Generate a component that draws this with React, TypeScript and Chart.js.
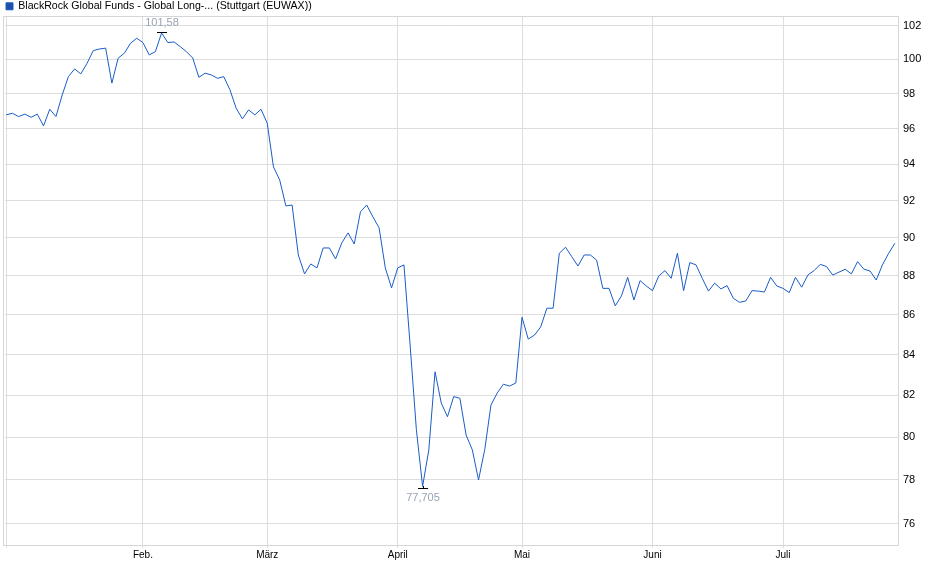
import { useEffect, useRef } from 'react'

import Chart from 'chart.js/auto'

// trading-day index of the first session of each month
const monthTicks = [0, 22, 42, 63, 83, 104, 125]
const monthLabels = ['', 'Feb.', 'März', 'April', 'Mai', 'Juni', 'Juli']

const priceTicks = [76, 78, 80, 82, 84, 86, 88, 90, 92, 94, 96, 98, 100, 102]

const prices = [
  96.78, 96.87, 96.68, 96.82, 96.64, 96.82, 96.15, 97.1, 96.68, 97.92,
  98.99, 99.44, 99.15, 99.77, 100.52, 100.62, 100.67, 98.61, 100.07, 100.37,
  100.96, 101.26, 101.0, 100.27, 100.46, 101.58, 101.0, 101.04, 100.76, 100.46,
  100.09, 98.95, 99.19, 99.09, 98.89, 98.99, 98.22, 97.16, 96.55, 97.06,
  96.78, 97.1, 96.3, 93.85, 93.13, 91.71, 91.76, 89.09, 88.1, 88.62,
  88.41, 89.46, 89.46, 88.88, 89.73, 90.26, 89.67, 91.39, 91.76, 91.12,
  90.53, 88.41, 87.37, 88.41, 88.57, 84.43, 80.35, 77.705, 79.4, 83.15,
  81.63, 80.97, 81.94, 81.86, 80.1, 79.4, 78.0, 79.41, 81.53, 82.11,
  82.54, 82.45, 82.6, 85.87, 84.77, 84.97, 85.38, 86.33, 86.33, 89.18,
  89.5, 89.0, 88.51, 89.09, 89.09, 88.82, 87.35, 87.35, 86.45, 86.96,
  87.92, 86.75, 87.75, 87.47, 87.23, 87.99, 88.27, 87.87, 89.18, 87.23,
  88.69, 88.57, 87.87, 87.21, 87.62, 87.32, 87.49, 86.84, 86.63, 86.7,
  87.23, 87.21, 87.16, 87.92, 87.47, 87.35, 87.13, 87.92, 87.41, 88.04,
  88.27, 88.6, 88.48, 88.04, 88.19, 88.34, 88.1, 88.74, 88.35, 88.25,
  87.78, 88.57, 89.18, 89.71,
]

const seriesName = 'BlackRock Global Funds - Global Long-... (Stuttgart (EUWAX))'

const fmt = (v: number) => String(v).replace('.', ',')

// frame around the plot plus the high / low markers
const extremesPlugin = {
  id: 'extremes',
  beforeDatasetsDraw(chart: Chart) {
    const { ctx, chartArea } = chart
    ctx.save()
    ctx.strokeStyle = '#d6d6d6'
    ctx.lineWidth = 1
    ctx.strokeRect(chartArea.left - 1.5, chartArea.top + 0.5, chartArea.width + 2, chartArea.height)
    ctx.restore()
  },
  afterDatasetsDraw(chart: Chart) {
    const { ctx } = chart
    const xs = chart.scales.x
    const ys = chart.scales.y
    const hi = prices.indexOf(Math.max(...prices))
    const lo = prices.indexOf(Math.min(...prices))
    ctx.save()
    ctx.font = '11px "Liberation Sans", Arial, sans-serif'
    ctx.textAlign = 'center'
    ctx.textBaseline = 'middle'

    const hx = Math.round(xs.getPixelForValue(hi))
    const hy = Math.round(ys.getPixelForValue(prices[hi])) - 1
    ctx.strokeStyle = '#000'
    ctx.beginPath()
    ctx.moveTo(hx - 5, hy + 0.5)
    ctx.lineTo(hx + 5, hy + 0.5)
    ctx.stroke()
    ctx.fillStyle = '#98a4b4'
    ctx.fillText(fmt(prices[hi]), hx, hy - 9)

    const lx = Math.round(xs.getPixelForValue(lo))
    const ly = Math.round(ys.getPixelForValue(prices[lo])) + 2
    ctx.beginPath()
    ctx.moveTo(lx - 5, ly + 0.5)
    ctx.lineTo(lx + 5, ly + 0.5)
    ctx.moveTo(lx + 0.5, ly - 2)
    ctx.lineTo(lx + 0.5, ly)
    ctx.stroke()
    ctx.fillText(fmt(prices[lo]), lx, ly + 10)
    ctx.restore()
  },
}

export default function App() {
  const canvasRef = useRef<HTMLCanvasElement | null>(null)
  const chartRef = useRef<Chart | null>(null)

  useEffect(() => {
    document.body.style.margin = '0'
    if (!canvasRef.current) return

    Chart.defaults.font.family = '"Liberation Sans", Arial, sans-serif'

    chartRef.current = new Chart(canvasRef.current, {
      type: 'line',
      data: {
        datasets: [
          {
            label: seriesName,
            data: prices.map((v, i) => ({ x: i, y: v })),
            borderColor: '#1a5cc8',
            backgroundColor: '#1e4fa6',
            borderWidth: 1,
            pointRadius: 0,
            tension: 0,
          },
        ],
      },
      options: {
        responsive: false,
        animation: false,
        layout: { padding: { left: 5 } },
        plugins: {
          tooltip: { enabled: false },
          legend: {
            position: 'top',
            align: 'start',
            maxHeight: 16,
            labels: {
              boxWidth: 7,
              boxHeight: 7,
              padding: 1,
              color: '#000',
              font: { size: 10.6 },
            },
          },
        },
        scales: {
          x: {
            type: 'linear',
            min: -0.2,
            max: 143.5,
            afterBuildTicks: (axis: any) => {
              axis.ticks = monthTicks.map((v) => ({ value: v }))
            },
            afterFit: (axis: any) => {
              axis.height = 34
            },
            ticks: {
              autoSkip: false,
              maxRotation: 0,
              padding: 1,
              color: '#000',
              font: { size: 10 },
              callback: (value: any) => monthLabels[monthTicks.indexOf(Number(value))] ?? '',
            },
            grid: { color: '#dddddd', tickLength: 3, drawTicks: true },
            border: { color: '#d6d6d6' },
          },
          y: {
            type: 'logarithmic',
            position: 'right',
            min: 75.06,
            max: 102.6,
            afterBuildTicks: (axis: any) => {
              axis.ticks = priceTicks.map((v) => ({ value: v }))
            },
            afterFit: (axis: any) => {
              axis.width = 42
            },
            ticks: {
              padding: 5,
              color: '#000',
              font: { size: 11 },
              callback: (value: any) => String(value),
            },
            grid: { color: '#dddddd', drawTicks: false },
            border: { color: '#d6d6d6' },
          },
        },
      },
      plugins: [extremesPlugin],
    })

    return () => {
      if (chartRef.current) {
        chartRef.current.destroy()
        chartRef.current = null
      }
    }
  }, [])

  return (
    <div>
      <canvas ref={canvasRef} width={940} height={579} />
    </div>
  )
}
